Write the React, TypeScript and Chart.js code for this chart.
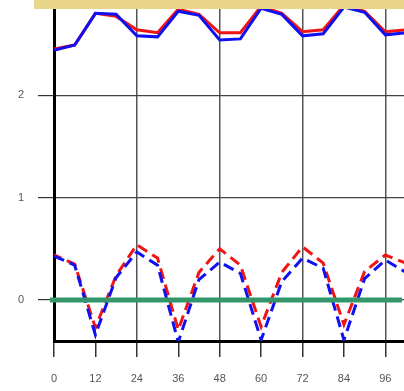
import React, { useEffect, useRef } from "react";
import { Chart, registerables } from "chart.js";

Chart.register(...registerables);

const xValues = [0, 6, 12, 18, 24, 30, 36, 42, 48, 54, 60, 66, 72, 78, 84, 90, 96, 102];
const topRed = [2.45, 2.49, 2.80, 2.77, 2.64, 2.61, 2.84, 2.79, 2.61, 2.61, 2.87, 2.80, 2.62, 2.64, 2.88, 2.82, 2.62, 2.64];
const topBlue = [2.44, 2.49, 2.80, 2.79, 2.58, 2.57, 2.82, 2.78, 2.54, 2.55, 2.85, 2.79, 2.58, 2.60, 2.86, 2.81, 2.59, 2.61];
const lowRed = [0.44, 0.35, -0.27, 0.24, 0.54, 0.41, -0.29, 0.27, 0.50, 0.34, -0.26, 0.27, 0.52, 0.36, -0.24, 0.28, 0.44, 0.36];
const lowBlue = [0.43, 0.34, -0.34, 0.22, 0.47, 0.34, -0.41, 0.20, 0.37, 0.26, -0.39, 0.18, 0.41, 0.31, -0.39, 0.21, 0.39, 0.27];
const zeroX = [-1.2, 100.8];
const zeroY = [0, 0];
const xTicks = [0, 12, 24, 36, 48, 60, 72, 84, 96];
const yTicks = [0, 1, 2];

const pts = (xs: number[], ys: number[]) => xs.map((x, i) => ({ x, y: ys[i] }));

export default function App() {
  const ref = useRef<HTMLCanvasElement>(null);
  useEffect(() => {
    if (!ref.current) return;
    const chart = new Chart(ref.current, {
      type: "line",
      data: {
        datasets: [
          {
            data: pts(zeroX, zeroY),
            borderColor: "#33956a",
            borderWidth: 5,
            pointRadius: 0,
            clip: false as any,
          },
          {
            data: pts(xValues, lowBlue),
            borderColor: "#1010f0",
            borderWidth: 3,
            borderDash: [11, 6],
            pointRadius: 0,
          },
          {
            data: pts(xValues, lowRed),
            borderColor: "#f01414",
            borderWidth: 3,
            borderDash: [11, 6],
            borderDashOffset: 3,
            pointRadius: 0,
          },
          {
            data: pts(xValues, topBlue),
            borderColor: "#1010f0",
            borderWidth: 3,
            pointRadius: 0,
          },
          {
            data: pts(xValues, topRed),
            borderColor: "#f01414",
            borderWidth: 3,
            pointRadius: 0,
          },
        ],
      },
      options: {
        animation: false,
        responsive: false,
        maintainAspectRatio: false,
        devicePixelRatio: 1,
        layout: { padding: 0, autoPadding: false },
        plugins: { legend: { display: false }, tooltip: { enabled: false } },
        elements: { line: { tension: 0 }, point: { radius: 0, hoverRadius: 0 } },
        scales: {
          x: {
            type: "linear",
            min: 0,
            max: 101.4,
            afterBuildTicks: (s: any) => {
              s.ticks = xTicks.map((v) => ({ value: v }));
            },
            afterFit: (s: any) => {
              s.height = 50;
              s.paddingLeft = 0;
              s.paddingRight = 0;
            },
            grid: {
              color: (c: any) => (c.tick && c.tick.value % 24 === 0 ? "#555" : "rgba(0,0,0,0)"),
              tickColor: "#333",
              lineWidth: 1.5,
              tickLength: 16,
            },
            border: { color: "#000", width: 3 },
            ticks: {
              font: { family: "Liberation Sans", size: 11 },
              color: "#555",
              padding: 15,
              maxRotation: 0,
            },
          },
          y: {
            type: "linear",
            min: -0.4,
            max: 2.93,
            afterBuildTicks: (s: any) => {
              s.ticks = yTicks.map((v) => ({ value: v }));
            },
            afterFit: (s: any) => {
              s.width = 54;
              s.paddingTop = 0;
              s.paddingBottom = 0;
            },
            grid: {
              color: "#444",
              tickColor: "#333",
              lineWidth: 1.2,
              tickLength: 16,
            },
            border: { color: "#000", width: 3 },
            ticks: {
              font: { family: "Liberation Sans", size: 11 },
              color: "#555",
              padding: 14,
            },
          },
        },
      },
    });
    return () => chart.destroy();
  }, []);
  return (
    <div style={{ position: "absolute", left: 0, top: 0, width: 404, height: 391, background: "#fff" }}>
      <canvas ref={ref} width={404} height={391} style={{ display: "block" }} />
      <div
        style={{
          position: "absolute",
          left: 34,
          top: 0,
          width: 370,
          height: 9,
          background: "#e9d68a",
        }}
      />
    </div>
  );
}
